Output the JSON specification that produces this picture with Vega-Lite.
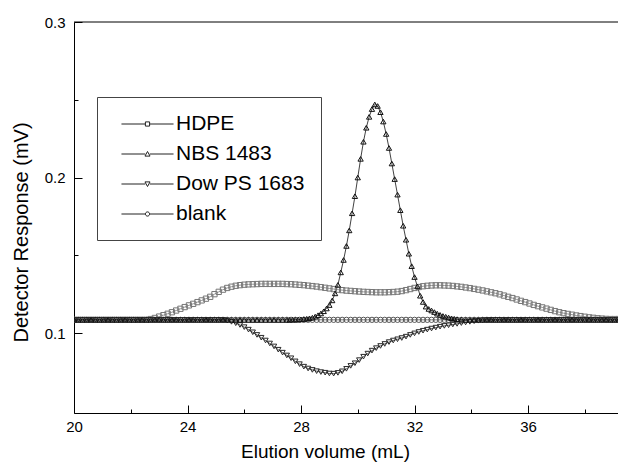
{
"$schema": "https://vega.github.io/schema/vega-lite/v6.json",
"width": 544, "height": 391,
"autosize": "none",
"padding": {"left": 74, "top": 22, "right": 0, "bottom": 55},
"background": "white",
"config": {"view": {"stroke": null}, "font": "Liberation Sans",
 "axis": {"grid": false, "domainColor": "black", "tickColor": "black", "labelColor": "black", "titleColor": "black", "labelFontSize": 15, "titleFontSize": 19, "titleFontWeight": "normal", "labelFont": "Liberation Sans", "titleFont": "Liberation Sans", "domainWidth": 1, "tickWidth": 1, "labelFlush": false},
 "legend": {"title": null, "orient": "none", "legendX": 23, "legendY": 75, "padding": 16, "strokeColor": "#444444", "fillColor": "white", "labelFontSize": 21, "labelFont": "Liberation Sans", "labelColor": "black", "symbolSize": 441, "symbolOffset": 23.5, "labelOffset": 17.5, "rowPadding": 9, "symbolStrokeWidth": 1, "symbolOpacity": 1, "symbolStrokeColor": "#222222", "symbolFillColor": "transparent"}},
"resolve": {"scale": {"shape": "independent"}, "legend": {"shape": "independent"}},
"data": {"values": [
{"s":"blank","x":20,"y":0.1085},{"s":"blank","x":20.15,"y":0.1085},{"s":"blank","x":20.3,"y":0.1085},{"s":"blank","x":20.45,"y":0.1085},{"s":"blank","x":20.6,"y":0.1085},{"s":"blank","x":20.75,"y":0.1085},{"s":"blank","x":20.9,"y":0.1085},{"s":"blank","x":21.05,"y":0.1085},{"s":"blank","x":21.2,"y":0.1085},{"s":"blank","x":21.35,"y":0.1085},{"s":"blank","x":21.5,"y":0.1085},{"s":"blank","x":21.65,"y":0.1085},{"s":"blank","x":21.8,"y":0.1085},{"s":"blank","x":21.95,"y":0.1085},{"s":"blank","x":22.1,"y":0.1085},{"s":"blank","x":22.25,"y":0.1085},{"s":"blank","x":22.4,"y":0.1085},{"s":"blank","x":22.55,"y":0.1085},{"s":"blank","x":22.7,"y":0.1085},{"s":"blank","x":22.85,"y":0.1085},{"s":"blank","x":23,"y":0.1085},{"s":"blank","x":23.15,"y":0.1085},{"s":"blank","x":23.3,"y":0.1085},{"s":"blank","x":23.45,"y":0.1085},{"s":"blank","x":23.6,"y":0.1085},{"s":"blank","x":23.75,"y":0.1085},{"s":"blank","x":23.9,"y":0.1085},{"s":"blank","x":24.05,"y":0.1085},{"s":"blank","x":24.2,"y":0.1085},{"s":"blank","x":24.35,"y":0.1085},{"s":"blank","x":24.5,"y":0.1085},{"s":"blank","x":24.65,"y":0.1085},{"s":"blank","x":24.8,"y":0.1085},{"s":"blank","x":24.95,"y":0.1085},{"s":"blank","x":25.1,"y":0.1085},{"s":"blank","x":25.25,"y":0.1085},{"s":"blank","x":25.4,"y":0.1085},{"s":"blank","x":25.55,"y":0.1085},{"s":"blank","x":25.7,"y":0.1085},{"s":"blank","x":25.85,"y":0.1085},{"s":"blank","x":26,"y":0.1085},{"s":"blank","x":26.15,"y":0.1085},{"s":"blank","x":26.3,"y":0.1085},{"s":"blank","x":26.45,"y":0.1085},{"s":"blank","x":26.6,"y":0.1085},{"s":"blank","x":26.75,"y":0.1085},{"s":"blank","x":26.9,"y":0.1085},{"s":"blank","x":27.05,"y":0.1085},{"s":"blank","x":27.2,"y":0.1085},{"s":"blank","x":27.35,"y":0.1085},{"s":"blank","x":27.5,"y":0.1085},{"s":"blank","x":27.65,"y":0.1085},{"s":"blank","x":27.8,"y":0.1085},{"s":"blank","x":27.95,"y":0.1085},{"s":"blank","x":28.1,"y":0.1085},{"s":"blank","x":28.25,"y":0.1085},{"s":"blank","x":28.4,"y":0.1085},{"s":"blank","x":28.55,"y":0.1085},{"s":"blank","x":28.7,"y":0.1085},{"s":"blank","x":28.85,"y":0.1085},{"s":"blank","x":29,"y":0.1085},{"s":"blank","x":29.15,"y":0.1085},{"s":"blank","x":29.3,"y":0.1085},{"s":"blank","x":29.45,"y":0.1085},{"s":"blank","x":29.6,"y":0.1085},{"s":"blank","x":29.75,"y":0.1085},{"s":"blank","x":29.9,"y":0.1085},{"s":"blank","x":30.05,"y":0.1085},{"s":"blank","x":30.2,"y":0.1085},{"s":"blank","x":30.35,"y":0.1085},{"s":"blank","x":30.5,"y":0.1085},{"s":"blank","x":30.65,"y":0.1085},{"s":"blank","x":30.8,"y":0.1085},{"s":"blank","x":30.95,"y":0.1085},{"s":"blank","x":31.1,"y":0.1085},{"s":"blank","x":31.25,"y":0.1085},{"s":"blank","x":31.4,"y":0.1085},{"s":"blank","x":31.55,"y":0.1085},{"s":"blank","x":31.7,"y":0.1085},{"s":"blank","x":31.85,"y":0.1085},{"s":"blank","x":32,"y":0.1085},{"s":"blank","x":32.15,"y":0.1085},{"s":"blank","x":32.3,"y":0.1085},{"s":"blank","x":32.45,"y":0.1085},{"s":"blank","x":32.6,"y":0.1085},{"s":"blank","x":32.75,"y":0.1085},{"s":"blank","x":32.9,"y":0.1085},{"s":"blank","x":33.05,"y":0.1085},{"s":"blank","x":33.2,"y":0.1085},{"s":"blank","x":33.35,"y":0.1085},{"s":"blank","x":33.5,"y":0.1085},{"s":"blank","x":33.65,"y":0.1085},{"s":"blank","x":33.8,"y":0.1085},{"s":"blank","x":33.95,"y":0.1085},{"s":"blank","x":34.1,"y":0.1085},{"s":"blank","x":34.25,"y":0.1085},{"s":"blank","x":34.4,"y":0.1085},{"s":"blank","x":34.55,"y":0.1085},{"s":"blank","x":34.7,"y":0.1085},{"s":"blank","x":34.85,"y":0.1085},{"s":"blank","x":35,"y":0.1085},{"s":"blank","x":35.15,"y":0.1085},{"s":"blank","x":35.3,"y":0.1085},{"s":"blank","x":35.45,"y":0.1085},{"s":"blank","x":35.6,"y":0.1085},{"s":"blank","x":35.75,"y":0.1085},{"s":"blank","x":35.9,"y":0.1085},{"s":"blank","x":36.05,"y":0.1085},{"s":"blank","x":36.2,"y":0.1085},{"s":"blank","x":36.35,"y":0.1085},{"s":"blank","x":36.5,"y":0.1085},{"s":"blank","x":36.65,"y":0.1085},{"s":"blank","x":36.8,"y":0.1085},{"s":"blank","x":36.95,"y":0.1085},{"s":"blank","x":37.1,"y":0.1085},{"s":"blank","x":37.25,"y":0.1085},{"s":"blank","x":37.4,"y":0.1085},{"s":"blank","x":37.55,"y":0.1085},{"s":"blank","x":37.7,"y":0.1085},{"s":"blank","x":37.85,"y":0.1085},{"s":"blank","x":38,"y":0.1085},{"s":"blank","x":38.15,"y":0.1085},{"s":"blank","x":38.3,"y":0.1085},{"s":"blank","x":38.45,"y":0.1085},{"s":"blank","x":38.6,"y":0.1085},{"s":"blank","x":38.75,"y":0.1085},{"s":"blank","x":38.9,"y":0.1085},{"s":"blank","x":39.05,"y":0.1085},{"s":"blank","x":39.2,"y":0.1085},
{"s":"HDPE","x":20,"y":0.1085},{"s":"HDPE","x":20.15,"y":0.1085},{"s":"HDPE","x":20.3,"y":0.1085},{"s":"HDPE","x":20.45,"y":0.1085},{"s":"HDPE","x":20.6,"y":0.1085},{"s":"HDPE","x":20.75,"y":0.1085},{"s":"HDPE","x":20.9,"y":0.1085},{"s":"HDPE","x":21.05,"y":0.1085},{"s":"HDPE","x":21.2,"y":0.1085},{"s":"HDPE","x":21.35,"y":0.1085},{"s":"HDPE","x":21.5,"y":0.1085},{"s":"HDPE","x":21.65,"y":0.1085},{"s":"HDPE","x":21.8,"y":0.1085},{"s":"HDPE","x":21.95,"y":0.1085},{"s":"HDPE","x":22.1,"y":0.1085},{"s":"HDPE","x":22.25,"y":0.1085},{"s":"HDPE","x":22.4,"y":0.1085},{"s":"HDPE","x":22.55,"y":0.1085},{"s":"HDPE","x":22.7,"y":0.109},{"s":"HDPE","x":22.85,"y":0.1097},{"s":"HDPE","x":23,"y":0.1106},{"s":"HDPE","x":23.15,"y":0.1115},{"s":"HDPE","x":23.3,"y":0.1124},{"s":"HDPE","x":23.45,"y":0.1134},{"s":"HDPE","x":23.6,"y":0.1145},{"s":"HDPE","x":23.75,"y":0.1156},{"s":"HDPE","x":23.9,"y":0.1167},{"s":"HDPE","x":24.05,"y":0.1178},{"s":"HDPE","x":24.2,"y":0.1188},{"s":"HDPE","x":24.35,"y":0.1199},{"s":"HDPE","x":24.5,"y":0.121},{"s":"HDPE","x":24.65,"y":0.1221},{"s":"HDPE","x":24.8,"y":0.1233},{"s":"HDPE","x":24.95,"y":0.125},{"s":"HDPE","x":25.1,"y":0.1265},{"s":"HDPE","x":25.25,"y":0.1279},{"s":"HDPE","x":25.4,"y":0.129},{"s":"HDPE","x":25.55,"y":0.1298},{"s":"HDPE","x":25.7,"y":0.1304},{"s":"HDPE","x":25.85,"y":0.1308},{"s":"HDPE","x":26,"y":0.1311},{"s":"HDPE","x":26.15,"y":0.1313},{"s":"HDPE","x":26.3,"y":0.1314},{"s":"HDPE","x":26.45,"y":0.1315},{"s":"HDPE","x":26.6,"y":0.1316},{"s":"HDPE","x":26.75,"y":0.1316},{"s":"HDPE","x":26.9,"y":0.1316},{"s":"HDPE","x":27.05,"y":0.1316},{"s":"HDPE","x":27.2,"y":0.1316},{"s":"HDPE","x":27.35,"y":0.1316},{"s":"HDPE","x":27.5,"y":0.1315},{"s":"HDPE","x":27.65,"y":0.1314},{"s":"HDPE","x":27.8,"y":0.1312},{"s":"HDPE","x":27.95,"y":0.131},{"s":"HDPE","x":28.1,"y":0.1308},{"s":"HDPE","x":28.25,"y":0.1305},{"s":"HDPE","x":28.4,"y":0.1302},{"s":"HDPE","x":28.55,"y":0.1299},{"s":"HDPE","x":28.7,"y":0.1295},{"s":"HDPE","x":28.85,"y":0.1291},{"s":"HDPE","x":29,"y":0.1287},{"s":"HDPE","x":29.15,"y":0.1283},{"s":"HDPE","x":29.3,"y":0.1279},{"s":"HDPE","x":29.45,"y":0.1276},{"s":"HDPE","x":29.6,"y":0.1273},{"s":"HDPE","x":29.75,"y":0.1271},{"s":"HDPE","x":29.9,"y":0.1269},{"s":"HDPE","x":30.05,"y":0.1267},{"s":"HDPE","x":30.2,"y":0.1265},{"s":"HDPE","x":30.35,"y":0.1264},{"s":"HDPE","x":30.5,"y":0.1263},{"s":"HDPE","x":30.65,"y":0.1262},{"s":"HDPE","x":30.8,"y":0.1262},{"s":"HDPE","x":30.95,"y":0.1262},{"s":"HDPE","x":31.1,"y":0.1263},{"s":"HDPE","x":31.25,"y":0.1264},{"s":"HDPE","x":31.4,"y":0.1266},{"s":"HDPE","x":31.55,"y":0.127},{"s":"HDPE","x":31.7,"y":0.1276},{"s":"HDPE","x":31.85,"y":0.1283},{"s":"HDPE","x":32,"y":0.129},{"s":"HDPE","x":32.15,"y":0.1296},{"s":"HDPE","x":32.3,"y":0.1301},{"s":"HDPE","x":32.45,"y":0.1304},{"s":"HDPE","x":32.6,"y":0.1306},{"s":"HDPE","x":32.75,"y":0.1307},{"s":"HDPE","x":32.9,"y":0.1307},{"s":"HDPE","x":33.05,"y":0.1306},{"s":"HDPE","x":33.2,"y":0.1305},{"s":"HDPE","x":33.35,"y":0.1303},{"s":"HDPE","x":33.5,"y":0.13},{"s":"HDPE","x":33.65,"y":0.1297},{"s":"HDPE","x":33.8,"y":0.1293},{"s":"HDPE","x":33.95,"y":0.1289},{"s":"HDPE","x":34.1,"y":0.1284},{"s":"HDPE","x":34.25,"y":0.1279},{"s":"HDPE","x":34.4,"y":0.1274},{"s":"HDPE","x":34.55,"y":0.1268},{"s":"HDPE","x":34.7,"y":0.1262},{"s":"HDPE","x":34.85,"y":0.1256},{"s":"HDPE","x":35,"y":0.1249},{"s":"HDPE","x":35.15,"y":0.1241},{"s":"HDPE","x":35.3,"y":0.1233},{"s":"HDPE","x":35.45,"y":0.1225},{"s":"HDPE","x":35.6,"y":0.1216},{"s":"HDPE","x":35.75,"y":0.1207},{"s":"HDPE","x":35.9,"y":0.1199},{"s":"HDPE","x":36.05,"y":0.119},{"s":"HDPE","x":36.2,"y":0.1181},{"s":"HDPE","x":36.35,"y":0.1173},{"s":"HDPE","x":36.5,"y":0.1165},{"s":"HDPE","x":36.65,"y":0.1157},{"s":"HDPE","x":36.8,"y":0.1149},{"s":"HDPE","x":36.95,"y":0.1141},{"s":"HDPE","x":37.1,"y":0.1134},{"s":"HDPE","x":37.25,"y":0.1128},{"s":"HDPE","x":37.4,"y":0.1123},{"s":"HDPE","x":37.55,"y":0.1118},{"s":"HDPE","x":37.7,"y":0.1113},{"s":"HDPE","x":37.85,"y":0.1109},{"s":"HDPE","x":38,"y":0.1105},{"s":"HDPE","x":38.15,"y":0.1101},{"s":"HDPE","x":38.3,"y":0.1098},{"s":"HDPE","x":38.45,"y":0.1095},{"s":"HDPE","x":38.6,"y":0.1093},{"s":"HDPE","x":38.75,"y":0.1091},{"s":"HDPE","x":38.9,"y":0.109},{"s":"HDPE","x":39.05,"y":0.109},{"s":"HDPE","x":39.2,"y":0.109},
{"s":"Dow PS 1683","x":20,"y":0.1085},{"s":"Dow PS 1683","x":20.15,"y":0.1085},{"s":"Dow PS 1683","x":20.3,"y":0.1085},{"s":"Dow PS 1683","x":20.45,"y":0.1085},{"s":"Dow PS 1683","x":20.6,"y":0.1085},{"s":"Dow PS 1683","x":20.75,"y":0.1085},{"s":"Dow PS 1683","x":20.9,"y":0.1085},{"s":"Dow PS 1683","x":21.05,"y":0.1085},{"s":"Dow PS 1683","x":21.2,"y":0.1085},{"s":"Dow PS 1683","x":21.35,"y":0.1085},{"s":"Dow PS 1683","x":21.5,"y":0.1085},{"s":"Dow PS 1683","x":21.65,"y":0.1085},{"s":"Dow PS 1683","x":21.8,"y":0.1085},{"s":"Dow PS 1683","x":21.95,"y":0.1085},{"s":"Dow PS 1683","x":22.1,"y":0.1085},{"s":"Dow PS 1683","x":22.25,"y":0.1085},{"s":"Dow PS 1683","x":22.4,"y":0.1085},{"s":"Dow PS 1683","x":22.55,"y":0.1085},{"s":"Dow PS 1683","x":22.7,"y":0.1085},{"s":"Dow PS 1683","x":22.85,"y":0.1085},{"s":"Dow PS 1683","x":23,"y":0.1085},{"s":"Dow PS 1683","x":23.15,"y":0.1085},{"s":"Dow PS 1683","x":23.3,"y":0.1085},{"s":"Dow PS 1683","x":23.45,"y":0.1085},{"s":"Dow PS 1683","x":23.6,"y":0.1085},{"s":"Dow PS 1683","x":23.75,"y":0.1085},{"s":"Dow PS 1683","x":23.9,"y":0.1085},{"s":"Dow PS 1683","x":24.05,"y":0.1085},{"s":"Dow PS 1683","x":24.2,"y":0.1085},{"s":"Dow PS 1683","x":24.35,"y":0.1085},{"s":"Dow PS 1683","x":24.5,"y":0.1085},{"s":"Dow PS 1683","x":24.65,"y":0.1085},{"s":"Dow PS 1683","x":24.8,"y":0.1085},{"s":"Dow PS 1683","x":24.95,"y":0.1085},{"s":"Dow PS 1683","x":25.1,"y":0.1085},{"s":"Dow PS 1683","x":25.25,"y":0.1085},{"s":"Dow PS 1683","x":25.4,"y":0.108},{"s":"Dow PS 1683","x":25.55,"y":0.1072},{"s":"Dow PS 1683","x":25.7,"y":0.1063},{"s":"Dow PS 1683","x":25.85,"y":0.1052},{"s":"Dow PS 1683","x":26,"y":0.1038},{"s":"Dow PS 1683","x":26.15,"y":0.1022},{"s":"Dow PS 1683","x":26.3,"y":0.1005},{"s":"Dow PS 1683","x":26.45,"y":0.0988},{"s":"Dow PS 1683","x":26.6,"y":0.097},{"s":"Dow PS 1683","x":26.75,"y":0.0952},{"s":"Dow PS 1683","x":26.9,"y":0.0933},{"s":"Dow PS 1683","x":27.05,"y":0.0914},{"s":"Dow PS 1683","x":27.2,"y":0.0893},{"s":"Dow PS 1683","x":27.35,"y":0.0874},{"s":"Dow PS 1683","x":27.5,"y":0.0856},{"s":"Dow PS 1683","x":27.65,"y":0.0838},{"s":"Dow PS 1683","x":27.8,"y":0.0818},{"s":"Dow PS 1683","x":27.95,"y":0.08},{"s":"Dow PS 1683","x":28.1,"y":0.0784},{"s":"Dow PS 1683","x":28.25,"y":0.0772},{"s":"Dow PS 1683","x":28.4,"y":0.0763},{"s":"Dow PS 1683","x":28.55,"y":0.0755},{"s":"Dow PS 1683","x":28.7,"y":0.0749},{"s":"Dow PS 1683","x":28.85,"y":0.0745},{"s":"Dow PS 1683","x":29,"y":0.074},{"s":"Dow PS 1683","x":29.15,"y":0.0739},{"s":"Dow PS 1683","x":29.3,"y":0.0744},{"s":"Dow PS 1683","x":29.45,"y":0.0754},{"s":"Dow PS 1683","x":29.6,"y":0.077},{"s":"Dow PS 1683","x":29.75,"y":0.0789},{"s":"Dow PS 1683","x":29.9,"y":0.0806},{"s":"Dow PS 1683","x":30.05,"y":0.0826},{"s":"Dow PS 1683","x":30.2,"y":0.0848},{"s":"Dow PS 1683","x":30.35,"y":0.0868},{"s":"Dow PS 1683","x":30.5,"y":0.0887},{"s":"Dow PS 1683","x":30.65,"y":0.0903},{"s":"Dow PS 1683","x":30.8,"y":0.0917},{"s":"Dow PS 1683","x":30.95,"y":0.093},{"s":"Dow PS 1683","x":31.1,"y":0.0942},{"s":"Dow PS 1683","x":31.25,"y":0.0952},{"s":"Dow PS 1683","x":31.4,"y":0.096},{"s":"Dow PS 1683","x":31.55,"y":0.0968},{"s":"Dow PS 1683","x":31.7,"y":0.0977},{"s":"Dow PS 1683","x":31.85,"y":0.0988},{"s":"Dow PS 1683","x":32,"y":0.0998},{"s":"Dow PS 1683","x":32.15,"y":0.1007},{"s":"Dow PS 1683","x":32.3,"y":0.1015},{"s":"Dow PS 1683","x":32.45,"y":0.1022},{"s":"Dow PS 1683","x":32.6,"y":0.1029},{"s":"Dow PS 1683","x":32.75,"y":0.1035},{"s":"Dow PS 1683","x":32.9,"y":0.1041},{"s":"Dow PS 1683","x":33.05,"y":0.1046},{"s":"Dow PS 1683","x":33.2,"y":0.105},{"s":"Dow PS 1683","x":33.35,"y":0.1055},{"s":"Dow PS 1683","x":33.5,"y":0.1059},{"s":"Dow PS 1683","x":33.65,"y":0.1064},{"s":"Dow PS 1683","x":33.8,"y":0.1068},{"s":"Dow PS 1683","x":33.95,"y":0.1072},{"s":"Dow PS 1683","x":34.1,"y":0.1076},{"s":"Dow PS 1683","x":34.25,"y":0.1079},{"s":"Dow PS 1683","x":34.4,"y":0.1082},{"s":"Dow PS 1683","x":34.55,"y":0.1084},{"s":"Dow PS 1683","x":34.7,"y":0.1085},{"s":"Dow PS 1683","x":34.85,"y":0.1085},{"s":"Dow PS 1683","x":35,"y":0.1085},{"s":"Dow PS 1683","x":35.15,"y":0.1085},{"s":"Dow PS 1683","x":35.3,"y":0.1085},{"s":"Dow PS 1683","x":35.45,"y":0.1085},{"s":"Dow PS 1683","x":35.6,"y":0.1085},{"s":"Dow PS 1683","x":35.75,"y":0.1085},{"s":"Dow PS 1683","x":35.9,"y":0.1085},{"s":"Dow PS 1683","x":36.05,"y":0.1085},{"s":"Dow PS 1683","x":36.2,"y":0.1085},{"s":"Dow PS 1683","x":36.35,"y":0.1085},{"s":"Dow PS 1683","x":36.5,"y":0.1085},{"s":"Dow PS 1683","x":36.65,"y":0.1085},{"s":"Dow PS 1683","x":36.8,"y":0.1085},{"s":"Dow PS 1683","x":36.95,"y":0.1085},{"s":"Dow PS 1683","x":37.1,"y":0.1085},{"s":"Dow PS 1683","x":37.25,"y":0.1085},{"s":"Dow PS 1683","x":37.4,"y":0.1085},{"s":"Dow PS 1683","x":37.55,"y":0.1085},{"s":"Dow PS 1683","x":37.7,"y":0.1085},{"s":"Dow PS 1683","x":37.85,"y":0.1085},{"s":"Dow PS 1683","x":38,"y":0.1085},{"s":"Dow PS 1683","x":38.15,"y":0.1085},{"s":"Dow PS 1683","x":38.3,"y":0.1085},{"s":"Dow PS 1683","x":38.45,"y":0.1085},{"s":"Dow PS 1683","x":38.6,"y":0.1085},{"s":"Dow PS 1683","x":38.75,"y":0.1085},{"s":"Dow PS 1683","x":38.9,"y":0.1085},{"s":"Dow PS 1683","x":39.05,"y":0.1085},{"s":"Dow PS 1683","x":39.2,"y":0.1085},
{"s":"NBS 1483","x":20,"y":0.1085},{"s":"NBS 1483","x":20.15,"y":0.1085},{"s":"NBS 1483","x":20.3,"y":0.1085},{"s":"NBS 1483","x":20.45,"y":0.1085},{"s":"NBS 1483","x":20.6,"y":0.1085},{"s":"NBS 1483","x":20.75,"y":0.1085},{"s":"NBS 1483","x":20.9,"y":0.1085},{"s":"NBS 1483","x":21.05,"y":0.1085},{"s":"NBS 1483","x":21.2,"y":0.1085},{"s":"NBS 1483","x":21.35,"y":0.1085},{"s":"NBS 1483","x":21.5,"y":0.1085},{"s":"NBS 1483","x":21.65,"y":0.1085},{"s":"NBS 1483","x":21.8,"y":0.1085},{"s":"NBS 1483","x":21.95,"y":0.1085},{"s":"NBS 1483","x":22.1,"y":0.1085},{"s":"NBS 1483","x":22.25,"y":0.1085},{"s":"NBS 1483","x":22.4,"y":0.1085},{"s":"NBS 1483","x":22.55,"y":0.1085},{"s":"NBS 1483","x":22.7,"y":0.1085},{"s":"NBS 1483","x":22.85,"y":0.1085},{"s":"NBS 1483","x":23,"y":0.1085},{"s":"NBS 1483","x":23.15,"y":0.1085},{"s":"NBS 1483","x":23.3,"y":0.1085},{"s":"NBS 1483","x":23.45,"y":0.1085},{"s":"NBS 1483","x":23.6,"y":0.1085},{"s":"NBS 1483","x":23.75,"y":0.1085},{"s":"NBS 1483","x":23.9,"y":0.1085},{"s":"NBS 1483","x":24.05,"y":0.1085},{"s":"NBS 1483","x":24.2,"y":0.1085},{"s":"NBS 1483","x":24.35,"y":0.1085},{"s":"NBS 1483","x":24.5,"y":0.1085},{"s":"NBS 1483","x":24.65,"y":0.1085},{"s":"NBS 1483","x":24.8,"y":0.1085},{"s":"NBS 1483","x":24.95,"y":0.1085},{"s":"NBS 1483","x":25.1,"y":0.1085},{"s":"NBS 1483","x":25.25,"y":0.1085},{"s":"NBS 1483","x":25.4,"y":0.1085},{"s":"NBS 1483","x":25.55,"y":0.1085},{"s":"NBS 1483","x":25.7,"y":0.1085},{"s":"NBS 1483","x":25.85,"y":0.1085},{"s":"NBS 1483","x":26,"y":0.1085},{"s":"NBS 1483","x":26.15,"y":0.1085},{"s":"NBS 1483","x":26.3,"y":0.1085},{"s":"NBS 1483","x":26.45,"y":0.1085},{"s":"NBS 1483","x":26.6,"y":0.1085},{"s":"NBS 1483","x":26.75,"y":0.1085},{"s":"NBS 1483","x":26.9,"y":0.1085},{"s":"NBS 1483","x":27.05,"y":0.1085},{"s":"NBS 1483","x":27.2,"y":0.1085},{"s":"NBS 1483","x":27.35,"y":0.1085},
{"s":"NBS 1483","x":27.5,"y":0.1085},{"s":"NBS 1483","x":27.6,"y":0.1085},{"s":"NBS 1483","x":27.7,"y":0.1086},{"s":"NBS 1483","x":27.8,"y":0.1086},{"s":"NBS 1483","x":27.9,"y":0.1087},{"s":"NBS 1483","x":28,"y":0.1088},{"s":"NBS 1483","x":28.1,"y":0.109},{"s":"NBS 1483","x":28.2,"y":0.1092},{"s":"NBS 1483","x":28.3,"y":0.1095},{"s":"NBS 1483","x":28.4,"y":0.1099},{"s":"NBS 1483","x":28.5,"y":0.1106},{"s":"NBS 1483","x":28.6,"y":0.1115},{"s":"NBS 1483","x":28.7,"y":0.1126},{"s":"NBS 1483","x":28.8,"y":0.114},{"s":"NBS 1483","x":28.9,"y":0.1158},{"s":"NBS 1483","x":29,"y":0.118},{"s":"NBS 1483","x":29.1,"y":0.121},{"s":"NBS 1483","x":29.2,"y":0.1255},{"s":"NBS 1483","x":29.3,"y":0.131},{"s":"NBS 1483","x":29.4,"y":0.139},{"s":"NBS 1483","x":29.5,"y":0.147},{"s":"NBS 1483","x":29.6,"y":0.156},{"s":"NBS 1483","x":29.7,"y":0.166},{"s":"NBS 1483","x":29.8,"y":0.177},{"s":"NBS 1483","x":29.9,"y":0.188},{"s":"NBS 1483","x":30,"y":0.2},{"s":"NBS 1483","x":30.1,"y":0.212},{"s":"NBS 1483","x":30.2,"y":0.223},{"s":"NBS 1483","x":30.3,"y":0.232},{"s":"NBS 1483","x":30.4,"y":0.239},{"s":"NBS 1483","x":30.5,"y":0.244},{"s":"NBS 1483","x":30.6,"y":0.247},{"s":"NBS 1483","x":30.7,"y":0.246},{"s":"NBS 1483","x":30.8,"y":0.242},{"s":"NBS 1483","x":30.9,"y":0.236},{"s":"NBS 1483","x":31,"y":0.228},{"s":"NBS 1483","x":31.1,"y":0.219},{"s":"NBS 1483","x":31.2,"y":0.209},{"s":"NBS 1483","x":31.3,"y":0.199},{"s":"NBS 1483","x":31.4,"y":0.189},{"s":"NBS 1483","x":31.5,"y":0.179},{"s":"NBS 1483","x":31.6,"y":0.169},{"s":"NBS 1483","x":31.7,"y":0.16},{"s":"NBS 1483","x":31.8,"y":0.151},{"s":"NBS 1483","x":31.9,"y":0.143},{"s":"NBS 1483","x":32,"y":0.136},{"s":"NBS 1483","x":32.1,"y":0.13},{"s":"NBS 1483","x":32.2,"y":0.124},{"s":"NBS 1483","x":32.3,"y":0.12},{"s":"NBS 1483","x":32.4,"y":0.117},{"s":"NBS 1483","x":32.5,"y":0.1155},{"s":"NBS 1483","x":32.6,"y":0.1145},{"s":"NBS 1483","x":32.7,"y":0.1135},{"s":"NBS 1483","x":32.8,"y":0.1125},{"s":"NBS 1483","x":32.9,"y":0.1117},{"s":"NBS 1483","x":33,"y":0.111},{"s":"NBS 1483","x":33.1,"y":0.1105},{"s":"NBS 1483","x":33.2,"y":0.11},{"s":"NBS 1483","x":33.3,"y":0.1095},{"s":"NBS 1483","x":33.4,"y":0.1092},{"s":"NBS 1483","x":33.5,"y":0.1089},
{"s":"NBS 1483","x":33.65,"y":0.1087},{"s":"NBS 1483","x":33.8,"y":0.1085},{"s":"NBS 1483","x":33.95,"y":0.1085},{"s":"NBS 1483","x":34.1,"y":0.1085},{"s":"NBS 1483","x":34.25,"y":0.1085},{"s":"NBS 1483","x":34.4,"y":0.1085},{"s":"NBS 1483","x":34.55,"y":0.1085},{"s":"NBS 1483","x":34.7,"y":0.1085},{"s":"NBS 1483","x":34.85,"y":0.1085},{"s":"NBS 1483","x":35,"y":0.1085},{"s":"NBS 1483","x":35.15,"y":0.1085},{"s":"NBS 1483","x":35.3,"y":0.1085},{"s":"NBS 1483","x":35.45,"y":0.1085},{"s":"NBS 1483","x":35.6,"y":0.1085},{"s":"NBS 1483","x":35.75,"y":0.1085},{"s":"NBS 1483","x":35.9,"y":0.1085},{"s":"NBS 1483","x":36.05,"y":0.1085},{"s":"NBS 1483","x":36.2,"y":0.1085},{"s":"NBS 1483","x":36.35,"y":0.1085},{"s":"NBS 1483","x":36.5,"y":0.1085},{"s":"NBS 1483","x":36.65,"y":0.1085},{"s":"NBS 1483","x":36.8,"y":0.1085},{"s":"NBS 1483","x":36.95,"y":0.1085},{"s":"NBS 1483","x":37.1,"y":0.1085},{"s":"NBS 1483","x":37.25,"y":0.1085},{"s":"NBS 1483","x":37.4,"y":0.1085},{"s":"NBS 1483","x":37.55,"y":0.1085},{"s":"NBS 1483","x":37.7,"y":0.1085},{"s":"NBS 1483","x":37.85,"y":0.1085},{"s":"NBS 1483","x":38,"y":0.1085},{"s":"NBS 1483","x":38.15,"y":0.1085},{"s":"NBS 1483","x":38.3,"y":0.1085},{"s":"NBS 1483","x":38.45,"y":0.1085},{"s":"NBS 1483","x":38.6,"y":0.1085},{"s":"NBS 1483","x":38.75,"y":0.1085},{"s":"NBS 1483","x":38.9,"y":0.1085},{"s":"NBS 1483","x":39.05,"y":0.1085},{"s":"NBS 1483","x":39.2,"y":0.1085}
]},
"layer": [
{"mark": {"type": "line", "strokeWidth": 0.8, "clip": true, "opacity": 1},
 "encoding": {
  "x": {"field": "x", "type": "quantitative", "scale": {"domain": [20, 39.17], "nice": false, "zero": false},
    "axis": {"title": "Elution volume (mL)", "values": [20,22,24,26,28,30,32,34,36,38], "labelExpr": "datum.value % 4 === 0 ? datum.label : ''", "tickSize": {"condition": {"test": "datum.value % 4 === 0", "value": -8}, "value": -4}, "labelPadding": 14, "titleX": 251, "titlePadding": 8}},
  "y": {"field": "y", "type": "quantitative", "scale": {"domain": [0.0486, 0.3], "nice": false, "zero": false},
    "axis": {"title": "Detector Response (mV)", "titleFontSize": 20, "titleY": 210, "values": [0.1,0.15,0.2,0.25,0.3], "labelExpr": "abs(datum.value*10 - round(datum.value*10)) < 0.001 ? format(datum.value, '.1f') : ''", "tickSize": {"condition": {"test": "abs(datum.value*10 - round(datum.value*10)) < 0.001", "value": -8}, "value": -4}, "labelPadding": 17, "titlePadding": 13}},
  "color": {"field": "s", "type": "nominal", "scale": {"domain": ["blank", "Dow PS 1683", "HDPE", "NBS 1483"], "range": ["#555555", "#2a2a2a", "#777777", "#111111"]}, "legend": null},
  "detail": {"field": "s"}
 }},
{"mark": {"type": "point", "filled": false, "size": 28, "strokeWidth": 1, "clip": true, "opacity": 1},
 "encoding": {
  "x": {"field": "x", "type": "quantitative"},
  "y": {"field": "y", "type": "quantitative"},
  "color": {"field": "s", "type": "nominal", "legend": null},
  "shape": {"field": "s", "type": "nominal", "scale": {"domain": ["HDPE", "NBS 1483", "Dow PS 1683", "blank"], "range": ["square", "triangle-up", "triangle-down", "circle"]}, "legend": null}
 }},
{"transform": [{"filter": "datum.x < 0"}],
 "mark": {"type": "point", "filled": false, "color": "#222222", "strokeWidth": 1, "opacity": 1},
 "encoding": {
  "x": {"field": "x", "type": "quantitative"},
  "y": {"field": "y", "type": "quantitative"},
  "shape": {"field": "s", "type": "nominal",
    "scale": {"domain": ["HDPE", "NBS 1483", "Dow PS 1683", "blank"],
      "range": ["M-2.48,0H-0.2M0.2,0H2.48M-0.2,-0.2H0.2V0.2H-0.2Z", "M-2.48,0H-0.22M0.22,0H2.48M-0.24,0.2L0,-0.24L0.24,0.2Z", "M-2.48,0H-0.22M0.22,0H2.48M-0.24,-0.2L0,0.24L0.24,-0.2Z", "M-2.48,0H-0.2M0.2,0H2.48M-0.2,0A0.2,0.2,0,1,1,0.2,0A0.2,0.2,0,1,1,-0.2,0Z"]},
    "legend": {"symbolStrokeColor": "#222222", "symbolFillColor": "transparent"}}
 }},
{"data": {"values": [{}]},
 "mark": {"type": "rule", "color": "black", "strokeWidth": 1},
 "encoding": {"y": {"datum": 0.3, "type": "quantitative"}}}
]
}
